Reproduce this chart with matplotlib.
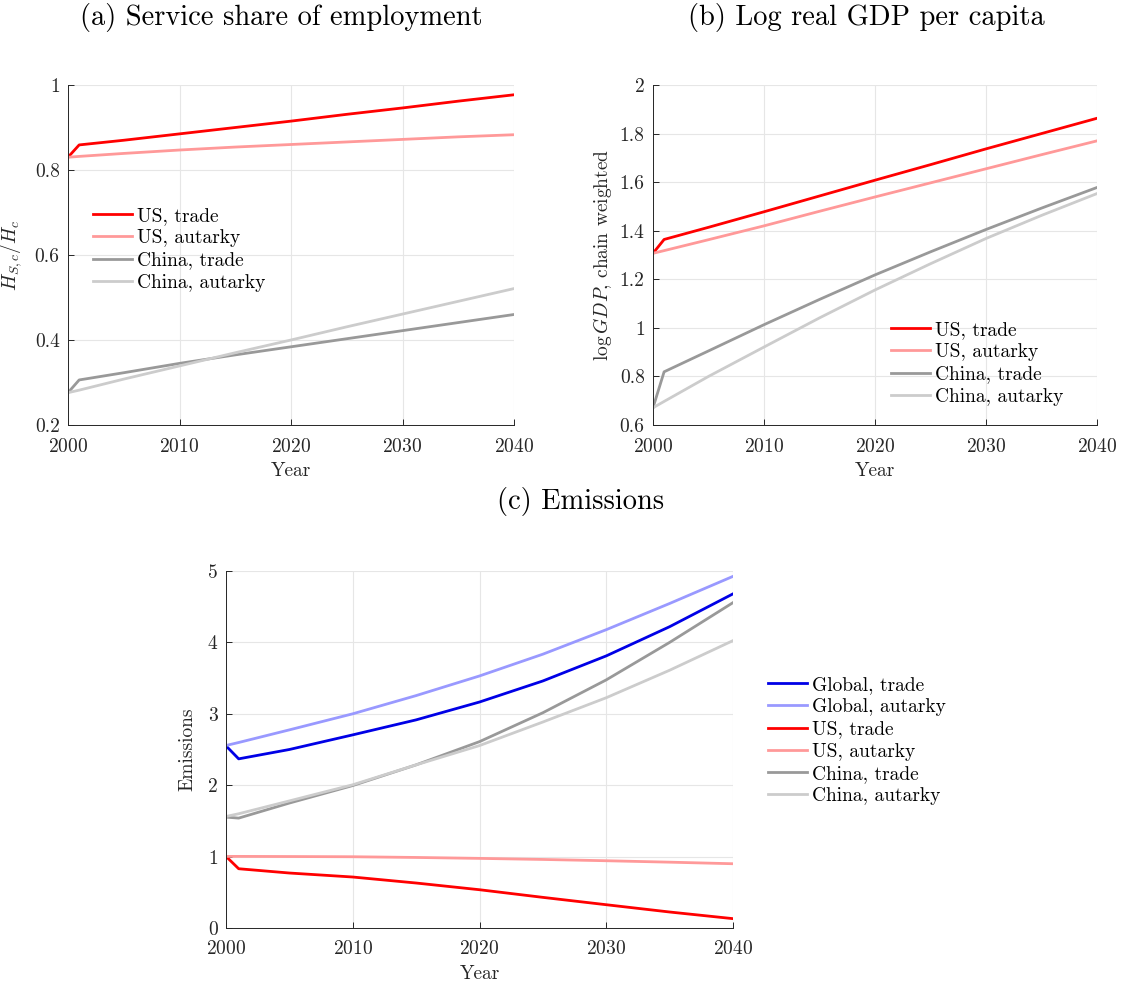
import numpy as np
import matplotlib
matplotlib.use("Agg")
import matplotlib.pyplot as plt
from matplotlib.ticker import FuncFormatter

plt.rcParams['font.family'] = ['cmr10', 'DejaVu Serif']
plt.rcParams['mathtext.fontset'] = 'cm'
plt.rcParams['axes.formatter.use_mathtext'] = True
plt.rcParams['axes.unicode_minus'] = False

# ---- data ----
years = [2000, 2001, 2005, 2010, 2015, 2020, 2025, 2030, 2035, 2040]

# (a) service share of employment
svc_us_trade = [0.830, 0.859, 0.870, 0.885, 0.900, 0.915, 0.931, 0.946, 0.962, 0.977]
svc_us_aut = [0.830, 0.832, 0.839, 0.847, 0.854, 0.860, 0.866, 0.872, 0.878, 0.883]
svc_cn_trade = [0.276, 0.306, 0.323, 0.345, 0.365, 0.384, 0.403, 0.422, 0.441, 0.460]
svc_cn_aut = [0.276, 0.282, 0.308, 0.339, 0.370, 0.400, 0.431, 0.461, 0.491, 0.521]

# (b) log real GDP per capita
gdp_us_trade = [1.307, 1.364, 1.414, 1.478, 1.543, 1.608, 1.672, 1.737, 1.800, 1.863]
gdp_us_aut = [1.307, 1.318, 1.363, 1.420, 1.480, 1.539, 1.597, 1.655, 1.713, 1.770]
gdp_cn_trade = [0.671, 0.819, 0.905, 1.013, 1.117, 1.218, 1.313, 1.405, 1.493, 1.578]
gdp_cn_aut = [0.671, 0.697, 0.800, 0.921, 1.041, 1.156, 1.264, 1.368, 1.463, 1.553]

# (c) emissions
em_gl_trade = [2.551, 2.369, 2.500, 2.705, 2.915, 3.165, 3.460, 3.811, 4.220, 4.680]
em_gl_aut = [2.556, 2.598, 2.775, 3.000, 3.255, 3.530, 3.835, 4.178, 4.545, 4.925]
em_us_trade = [1.003, 0.830, 0.770, 0.714, 0.630, 0.536, 0.429, 0.326, 0.224, 0.131]
em_us_aut = [1.003, 1.003, 1.001, 0.998, 0.988, 0.975, 0.960, 0.942, 0.922, 0.900]
em_cn_trade = [1.553, 1.539, 1.750, 1.995, 2.285, 2.610, 3.015, 3.475, 4.000, 4.557]
em_cn_aut = [1.562, 1.600, 1.780, 2.006, 2.285, 2.555, 2.885, 3.225, 3.610, 4.025]

labels4 = ['US, trade', 'US, autarky', 'China, trade', 'China, autarky']
colors4 = ['#ff0000', '#ff9999', '#999999', '#cccccc']
labels6 = ['Global, trade', 'Global, autarky'] + labels4
colors6 = ['#0000e6', '#9999ff'] + colors4

FS = 14
TS = 20.5
W, H = 1122, 985
fig = plt.figure(figsize=(W / 100, H / 100), dpi=100)


def fmt(v, pos):
    return '%g' % round(v, 6)


def style(ax, ylim, yticks, ylabel):
    ax.set_xlim(2000, 2040)
    ax.set_ylim(*ylim)
    ax.set_xticks([2000, 2010, 2020, 2030, 2040])
    ax.set_yticks(yticks)
    ax.yaxis.set_major_formatter(FuncFormatter(fmt))
    ax.grid(True, color='#e6e6e6', linewidth=0.8)
    ax.set_axisbelow(True)
    for s in ['top', 'right']:
        ax.spines[s].set_visible(False)
    for s in ['left', 'bottom']:
        ax.spines[s].set_color('#262626')
        ax.spines[s].set_linewidth(0.7)
    ax.tick_params(direction='in', length=4, width=0.7, color='#262626',
                   labelsize=FS, labelcolor='#262626', pad=6)
    ax.tick_params(axis='x', pad=9)
    ax.set_xlabel('Year', fontsize=FS, color='#262626', labelpad=5)
    ax.set_ylabel(ylabel, fontsize=FS, color='#262626', labelpad=4)


def px(x0, y0, x1, y1):
    return [x0 / W, 1 - y1 / H, (x1 - x0) / W, (y1 - y0) / H]


def legend(ax, x, y):
    ax.legend(loc='upper left', bbox_to_anchor=(x / W, 1 - y / H),
              bbox_transform=fig.transFigure, frameon=False, fontsize=FS,
              handlelength=2.0, handletextpad=0.25, labelspacing=0.22,
              borderpad=0, borderaxespad=0)


# (a)
ax1 = fig.add_axes(px(68, 85, 514, 425))
for ys, lab, c in zip([svc_us_trade, svc_us_aut, svc_cn_trade, svc_cn_aut], labels4, colors4):
    ax1.plot(years, ys, color=c, lw=2, label=lab)
style(ax1, (0.2, 1.0), [0.2, 0.4, 0.6, 0.8, 1.0], r'$H_{S,c}/H_c$')
ax1.yaxis.labelpad = 8
legend(ax1, 93, 207)
fig.text(281 / W, 1 - 17 / H, '(a) Service share of employment', ha='center', va='center', fontsize=TS)

# (b)
ax2 = fig.add_axes(px(653, 85, 1097, 425))
for ys, lab, c in zip([gdp_us_trade, gdp_us_aut, gdp_cn_trade, gdp_cn_aut], labels4, colors4):
    ax2.plot(years, ys, color=c, lw=2, label=lab)
style(ax2, (0.6, 2.0), [0.6, 0.8, 1.0, 1.2, 1.4, 1.6, 1.8, 2.0], r'$\log GDP$, chain weighted')
legend(ax2, 891, 321)
fig.text(866 / W, 1 - 17 / H, '(b) Log real GDP per capita', ha='center', va='center', fontsize=TS)

# (c)
ax3 = fig.add_axes(px(226, 571, 733, 928))
for ys, lab, c in zip([em_gl_trade, em_gl_aut, em_us_trade, em_us_aut, em_cn_trade, em_cn_aut],
                      labels6, colors6):
    ax3.plot(years, ys, color=c, lw=2, label=lab)
style(ax3, (0, 5), [0, 1, 2, 3, 4, 5], 'Emissions')
ax3.yaxis.labelpad = 8
legend(ax3, 768, 676)
fig.text(581 / W, 1 - 502 / H, '(c) Emissions', ha='center', va='center', fontsize=TS)

fig.savefig('out.png', dpi=100, facecolor='white')
